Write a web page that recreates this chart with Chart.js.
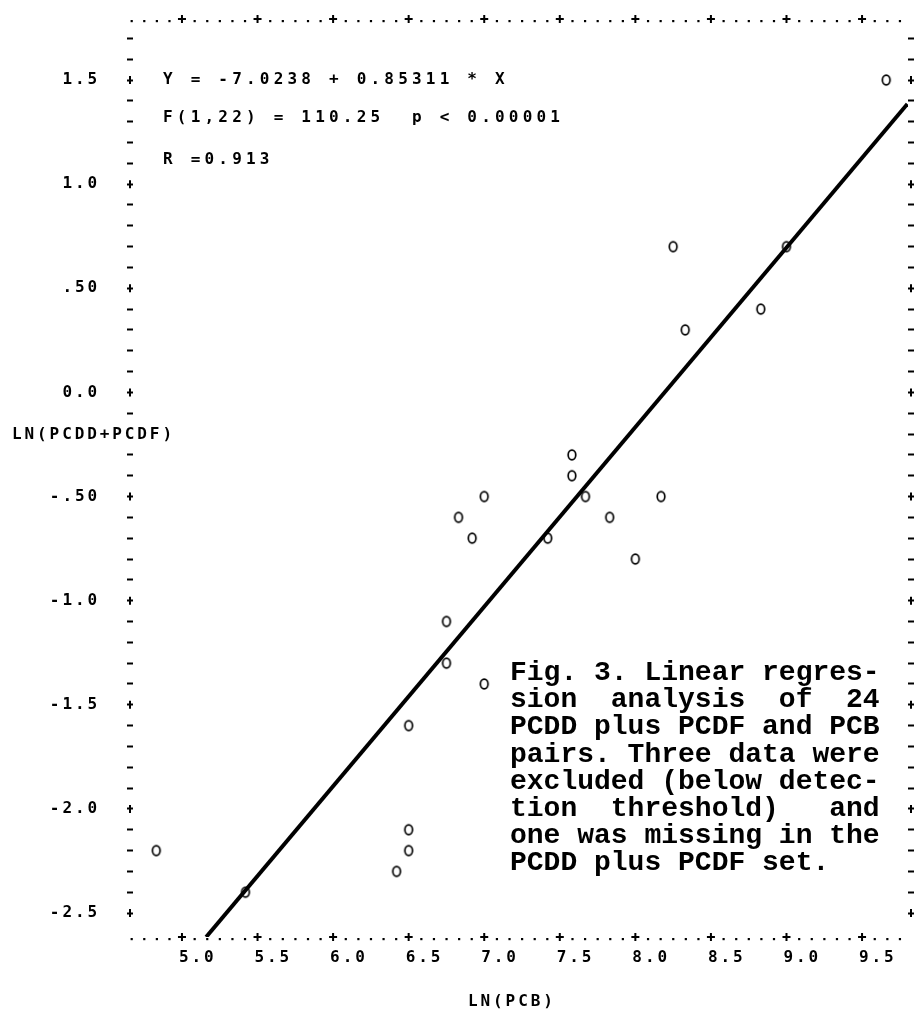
<!DOCTYPE html>
<html>
<head>
<meta charset="utf-8">
<script src="https://cdn.jsdelivr.net/npm/chart.js@4.4.0/dist/chart.umd.min.js"></script>
<style>
  html, body { margin: 0; padding: 0; background: #fff; }
  canvas { display: block; }
</style>
</head>
<body>
<canvas id="chart" width="915" height="1009"></canvas>
<script>
// datos (LN(PCB) vs LN(PCDD+PCDF))
const lnPcb = [9.66, 8.25, 9.0, 8.33, 8.83, 7.58, 7.58, 7.67, 7.0, 8.17, 6.83, 7.83,
               6.92, 7.42, 8.0, 6.75, 6.75, 7.0, 6.5, 6.5, 6.5, 6.42, 5.42, 4.83];
const lnPcddPcdf = [1.5, 0.7, 0.7, 0.3, 0.4, -0.3, -0.4, -0.5, -0.5, -0.5, -0.6, -0.6,
                    -0.7, -0.7, -0.8, -1.1, -1.3, -1.4, -1.6, -2.1, -2.2, -2.3, -2.4, -2.2];

// recta de regresion, extremos
const fitX = [5.16, 9.80];
const fitY = [-2.615, 1.385];

const xTickValues = [5.0, 5.5, 6.0, 6.5, 7.0, 7.5, 8.0, 8.5, 9.0, 9.5];
const xTickLabels = ['5.0', '5.5', '6.0', '6.5', '7.0', '7.5', '8.0', '8.5', '9.0', '9.5'];
const yTickValues = [1.5, 1.0, 0.5, 0.0, -0.5, -1.0, -1.5, -2.0, -2.5];
const yTickLabels = ['1.5', '1.0', '.50', '0.0', '-.50', '-1.0', '-1.5', '-2.0', '-2.5'];

const xTitle = 'LN(PCB)';
const yTitle = 'LN(PCDD+PCDF)';
const statLines = ['Y = -7.0238 + 0.85311 * X', 'F(1,22) = 110.25  p < 0.00001', 'R =0.913'];
const captionLines = [
    'Fig. 3. Linear regres-',
    'sion  analysis  of  24',
    'PCDD plus PCDF and PCB',
    'pairs. Three data were',
    'excluded (below detec-',
    'tion  threshold)   and',
    'one was missing in the',
    'PCDD plus PCDF set.'
];

const printFont = 'DejaVu Sans Mono';

// marcador tipo "o" de impresora
function makeOGlyph() {
    const c = document.createElement('canvas');
    c.width = 12;
    c.height = 14;
    const g = c.getContext('2d');
    g.strokeStyle = '#000';
    g.lineWidth = 1.7;
    g.beginPath();
    g.ellipse(6, 7, 3.8, 4.9, 0, 0, Math.PI * 2);
    g.stroke();
    return c;
}

// sin relleno extra: las etiquetas no deben empujar el area del grafico
function noPadding(s) {
    s.paddingTop = 0;
    s.paddingBottom = 0;
    s.paddingLeft = 0;
    s.paddingRight = 0;
}

// espaciado de letras para los textos de eje
const letterSpacingPlugin = {
    id: 'letterSpacing',
    beforeDraw(chart) {
        chart.ctx.letterSpacing = '2.9px';
    }
};

// filas de puntos arriba y abajo, y cruces "+" en las marcas principales
const plusMarks = {
    id: 'plusMarks',
    afterDraw(chart) {
        const { ctx, chartArea: a, scales } = chart;
        ctx.save();
        ctx.fillStyle = '#000';
        ctx.strokeStyle = '#000';
        ctx.lineWidth = 2;

        const x0 = scales.x.getPixelForValue(xTickValues[0]);
        const step = (scales.x.getPixelForValue(xTickValues[1]) - x0) / 6;
        const first = x0 - Math.floor((x0 - a.left + 2) / step) * step;
        for (let px = first; px <= a.right + 4; px += step) {
            const k = Math.round((px - x0) / step);
            if (k >= 0 && k % 6 === 0 && k / 6 < xTickValues.length) continue;
            ctx.fillRect(px - 1, a.top + 1, 2.2, 2.2);
            ctx.fillRect(px - 1, a.bottom + 1, 2.2, 2.2);
        }

        yTickValues.forEach(v => {
            const py = scales.y.getPixelForValue(v);
            [a.left - 3, a.right + 3].forEach(px => {
                ctx.beginPath();
                ctx.moveTo(px, py - 4);
                ctx.lineTo(px, py + 4);
                ctx.stroke();
            });
        });
        xTickValues.forEach(v => {
            const px = scales.x.getPixelForValue(v);
            [a.top, a.bottom].forEach(py => {
                ctx.beginPath();
                ctx.moveTo(px - 4, py);
                ctx.lineTo(px + 4, py);
                ctx.moveTo(px, py - 4);
                ctx.lineTo(px, py + 4);
                ctx.stroke();
            });
        });
        ctx.restore();
    }
};

// textos: ecuacion, titulos de ejes y leyenda de la figura
const textPlugin = {
    id: 'texts',
    afterDraw(chart) {
        const ctx = chart.ctx;
        ctx.save();
        ctx.fillStyle = '#000';
        ctx.textBaseline = 'middle';
        ctx.textAlign = 'left';

        ctx.font = 'bold 16px "' + printFont + '"';
        ctx.letterSpacing = '4.2px';
        const statY = [80, 118, 160];
        statLines.forEach((s, i) => ctx.fillText(s, 163, statY[i]));

        ctx.letterSpacing = '2.9px';
        ctx.fillText(yTitle, 12, 435);
        ctx.fillText(xTitle, 468, 1002);

        ctx.letterSpacing = '0px';
        ctx.font = 'bold 28px "Courier New", "Liberation Mono", monospace';
        captionLines.forEach((s, i) => ctx.fillText(s, 510, 673 + i * 27.2));
        ctx.restore();
        ctx.letterSpacing = '0px';
    }
};

const tickFont = { family: printFont, size: 16, weight: 'bold' };

new Chart(document.getElementById('chart'), {
    data: {
        datasets: [
            {
                type: 'line',
                data: fitX.map((x, i) => ({ x: x, y: fitY[i] })),
                borderColor: '#000',
                borderWidth: 4,
                pointRadius: 0,
                fill: false
            },
            {
                type: 'scatter',
                data: lnPcb.map((x, i) => ({ x: x, y: lnPcddPcdf[i] })),
                pointStyle: makeOGlyph(),
                pointRadius: 6
            }
        ]
    },
    options: {
        responsive: false,
        animation: false,
        devicePixelRatio: 1,
        layout: { padding: 0 },
        plugins: {
            legend: { display: false },
            tooltip: { enabled: false }
        },
        scales: {
            x: {
                type: 'linear',
                position: 'bottom',
                min: 4.676,
                max: 9.804,
                afterBuildTicks: s => { s.ticks = xTickValues.map(v => ({ value: v })); },
                afterFit: s => { s.height = 72; noPadding(s); },
                grid: { display: false, drawTicks: false },
                border: { display: false },
                ticks: {
                    color: '#000',
                    font: tickFont,
                    align: 'start',
                    padding: 11,
                    labelOffset: -3,
                    maxRotation: 0,
                    autoSkip: false,
                    callback: (v, i) => xTickLabels[i]
                }
            },
            x2: {
                type: 'linear',
                axis: 'x',
                position: 'top',
                min: 4.676,
                max: 9.804,
                afterBuildTicks: s => { s.ticks = xTickValues.map(v => ({ value: v })); },
                afterFit: s => { s.height = 19; noPadding(s); },
                grid: { display: false, drawTicks: false },
                border: { display: false },
                ticks: { display: false }
            },
            y: {
                type: 'linear',
                position: 'left',
                min: -2.615,
                max: 1.793,
                afterBuildTicks: s => {
                    s.ticks = [];
                    for (let k = -25; k <= 17; k++) s.ticks.push({ value: k / 10 });
                },
                afterFit: s => { s.width = 133; noPadding(s); },
                grid: {
                    drawOnChartArea: false,
                    drawTicks: true,
                    tickLength: 6,
                    tickWidth: 2,
                    tickColor: c => (c.tick && Math.abs(c.tick.value + 0.2) < 1e-6) ? 'rgba(0,0,0,0)' : '#000'
                },
                border: { display: false },
                ticks: {
                    color: '#000',
                    font: tickFont,
                    padding: 27,
                    autoSkip: false,
                    callback: v => {
                        const i = yTickValues.findIndex(t => Math.abs(t - v) < 1e-6);
                        return i >= 0 ? yTickLabels[i] : '';
                    }
                }
            },
            y2: {
                type: 'linear',
                axis: 'y',
                position: 'right',
                min: -2.615,
                max: 1.793,
                afterBuildTicks: s => {
                    s.ticks = [];
                    for (let k = -25; k <= 17; k++) s.ticks.push({ value: k / 10 });
                },
                afterFit: s => { s.width = 6; noPadding(s); },
                grid: {
                    drawOnChartArea: false,
                    drawTicks: true,
                    tickLength: 6,
                    tickWidth: 2,
                    tickColor: '#000'
                },
                border: { display: false },
                ticks: { padding: 0, autoSkip: false, callback: () => '' }
            }
        }
    },
    plugins: [letterSpacingPlugin, plusMarks, textPlugin]
});
</script>
</body>
</html>
